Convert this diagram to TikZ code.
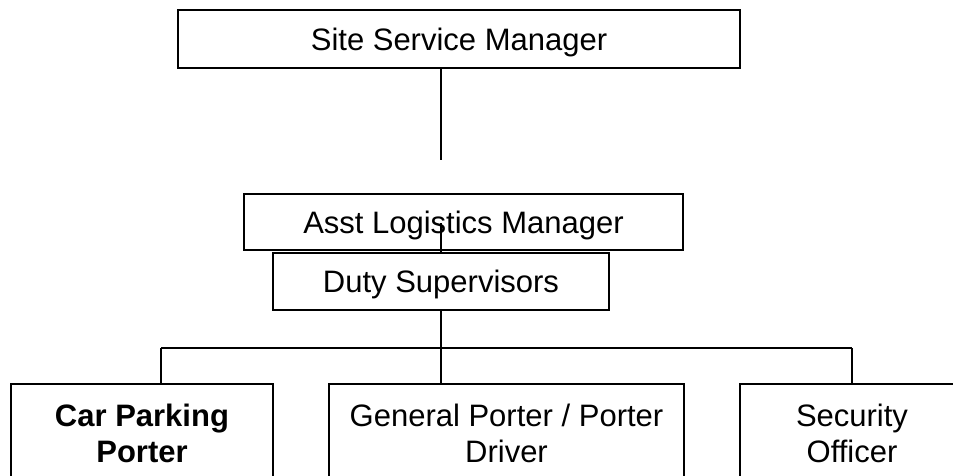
\documentclass[tikz,border=0pt]{standalone}
\usepackage{fontspec}
\setmainfont{Liberation Sans}
\begin{document}
\begin{tikzpicture}[x=0.5pt,y=-0.5pt,
  box/.style={draw,line width=1pt,fill=white,inner sep=0pt,text depth=0pt,font=\fontsize{15.5}{18}\selectfont},
  conn/.style={line width=1pt},
  botbox/.style={draw,line width=1pt,inner sep=0pt},
  bottxt/.style={align=center,font=\fontsize{15.5}{18}\selectfont}]
\clip (0,0) rectangle (953,476);
\useasboundingbox (0,0) rectangle (953,476);
% top box
\node[box,minimum width=562*0.5pt,minimum height=58*0.5pt] (ssm) at (459,39) {Site Service Manager};
\coordinate (ssmend) at (441,160);
\draw[conn] (ssm.south -| ssmend) -- (ssmend);
% asst box
\node[box,minimum width=439*0.5pt,minimum height=56*0.5pt] (alm) at (463.5,222) {Asst Logistics Manager};
\node[box,minimum width=336*0.5pt,minimum height=57*0.5pt] (duty) at (441,281.5) {Duty Supervisors};
\coordinate (almin) at (441,223);
\draw[conn] (almin) -- (duty.north -| almin);
% bus
\coordinate (bus) at (441,348);
\coordinate (busl) at (161,348);
\coordinate (busr) at (852,348);
\draw[conn] (duty.south -| bus) -- (bus);
\draw[conn] (busl) -- (busr);
% bottom boxes
\draw[botbox] (11,490) -- (11,384) -- (273,384) -- (273,490);
\draw[botbox] (329,490) -- (329,384) -- (684,384) -- (684,490);
\draw[botbox] (740,490) -- (740,384) -- (964,384) -- (964,490);
\coordinate (cpt) at (161,384);
\coordinate (gpt) at (441,384);
\coordinate (sot) at (852,384);
\draw[conn] (busl) -- (cpt);
\draw[conn] (bus) -- (gpt);
\draw[conn] (busr) -- (sot);
\node[bottxt,font=\fontsize{15.5}{18}\selectfont\bfseries] (cp) at (142,433) {Car Parking\\Porter};
\node[bottxt] (gp) at (506.5,433) {General Porter / Porter\\Driver};
\node[bottxt] (so) at (852,433) {Security\\Officer};
\end{tikzpicture}
\end{document}
